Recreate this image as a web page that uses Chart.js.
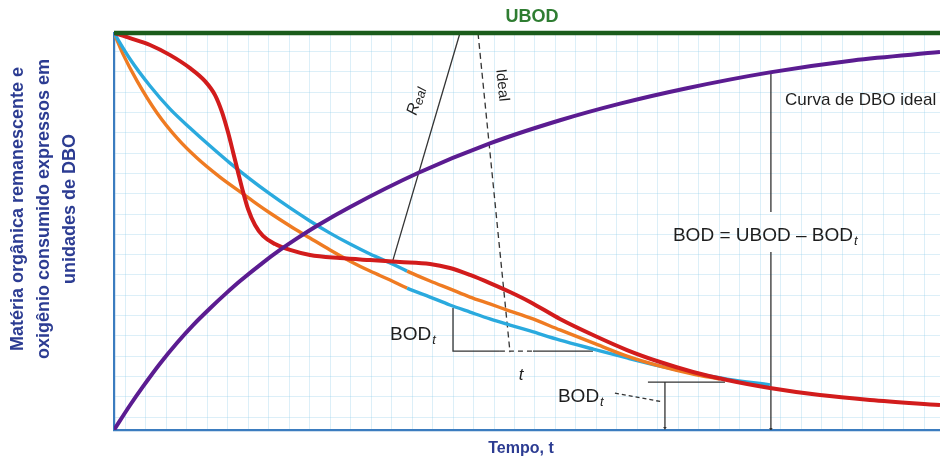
<!DOCTYPE html>
<html><head><meta charset="utf-8">
<script src="https://cdn.jsdelivr.net/npm/chart.js@4/dist/chart.umd.min.js"></script>
<style>html,body{margin:0;padding:0;background:#fff}#wrap{width:940px;height:461px;position:relative}</style>
</head><body><div id="wrap"><canvas id="c"></canvas></div>
<script>
// ---- values (time t and amount, in grid units) ----
const UBOD = 18.92;
const T_MIN = -0.54, T_MAX = 39.76, Y_MIN = -0.64;
const SWAP_T = 13.76; // where the blue/orange colours swap on the two decay curves

const idealT = [-0.54,0.24,0.88,1.71,2.54,3.32,4.15,4.98,5.61,6.73,7.56,8.39,9.41,10.98,14.29,17.80,21.22,24.15,27.41,31.46,35.51,39.76];
const idealY = [-0.64,0.58,1.51,2.64,3.66,4.53,5.36,6.14,6.70,7.61,8.23,8.80,9.45,10.35,12.02,13.48,14.62,15.44,16.20,16.98,17.57,17.98];

const realT = [-0.54,0.24,1.22,2.20,3.17,3.90,4.39,4.73,5.02,5.27,5.51,5.76,6.00,6.34,6.73,7.32,8.05,9.02,10.49,11.95,13.41,14.88,15.85,16.83,17.80,18.78,19.76,21.22,22.83,24.49,26.10,27.71,29.37,31.46,33.90,36.34,39.76];
const realY = [18.92,18.67,18.33,17.83,17.19,16.55,15.86,15.02,14.04,13.05,12.07,11.08,10.25,9.46,8.92,8.52,8.23,7.98,7.83,7.73,7.64,7.54,7.34,7.00,6.60,6.16,5.67,4.83,4.04,3.30,2.71,2.22,1.82,1.43,1.08,0.84,0.59];

const upperT = [-0.54,0.24,1.22,2.20,3.17,4.15,5.12,6.10,7.07,8.05,9.02,10.00,10.98,11.95,12.93,13.76,14.88,15.85,16.83,17.80,18.78,19.76,21.22,22.83,24.49,26.10,27.71,29.02];
const upperY = [18.92,17.64,16.31,15.17,14.24,13.35,12.51,11.72,10.99,10.30,9.66,9.06,8.52,8.03,7.59,7.19,6.70,6.31,5.91,5.57,5.22,4.88,4.29,3.65,3.00,2.51,2.12,1.87];

const lowerT = [-0.54,-0.10,0.59,1.56,2.54,3.51,4.63,5.76,6.44,7.07,8.05,9.02,10.00,10.98,11.95,12.93,13.76,14.88,15.85,16.83,17.80,18.78,19.76,21.22,22.83,24.49,26.10,27.71,29.37,31.46];
const lowerY = [18.92,17.88,16.55,14.98,13.74,12.76,11.82,10.99,10.49,10.05,9.41,8.82,8.23,7.68,7.19,6.75,6.35,5.91,5.52,5.17,4.83,4.53,4.24,3.79,3.35,2.91,2.51,2.17,1.87,1.58];

// construction lines of the figure
const realSlopeT = [16.34, 13.07];   const realSlopeY = [UBOD, 7.73];
const idealSlopeT = [17.22, 18.78];  const idealSlopeY = [UBOD, 3.20];
const bracket1T = [16.00, 16.00, 18.29, 18.29, 19.90, 22.83]; const bracket1Y = [5.37, 3.25, 3.25, null, 3.25, 3.25];
const bracket1DashT = [18.29, 19.90]; const bracket1DashY = [3.25, 3.25];
const bracket2T = [25.51, 29.27, 29.27, 26.34, 26.34]; const bracket2Y = [1.72, 1.72, null, 1.72, -0.54];
const leaderT = [23.90, 26.24]; const leaderY = [1.18, 0.74];
const arrowT = [31.51, 31.51, 31.51, 31.51, 31.51]; const arrowY = [16.95, 10.10, null, 8.13, -0.59];

const gridT = Array.from({length: 40}, (_, i) => i);
const gridY = Array.from({length: 19}, (_, i) => i);

const pts = (xs, ys) => xs.map((x, i) => ({x, y: ys[i]}));

const C = {red:'#d21c1c', cyan:'#2aaade', orange:'#ef7b22', purple:'#5b1c91', green:'#1b5c1b',
  axis:'#3b7cbf', ink:'#1e1e1e', title:'#2c3c92', ubodText:'#2f7d32', grid:'rgba(150,205,235,0.33)'};
const FONT = "'Liberation Sans', Arial, sans-serif";

const curve = (data, color, width, order, extra) => Object.assign({
  data, borderColor: color, borderWidth: width, pointRadius: 0, fill: false,
  cubicInterpolationMode: 'monotone', order
}, extra || {});
const thin = (data, dash, order, extra) => Object.assign({
  data, borderColor: '#333', borderWidth: 1.3, borderDash: dash || [], pointRadius: 0,
  tension: 0, fill: false, spanGaps: false, order
}, extra || {});

function sub(ctx, x, y, main, s, size) {
  ctx.font = size + 'px ' + FONT;
  ctx.textAlign = 'left'; ctx.textBaseline = 'alphabetic';
  ctx.fillText(main, x, y);
  const w = ctx.measureText(main).width;
  ctx.font = 'italic ' + Math.round(size * 0.68) + 'px ' + FONT;
  ctx.fillText(s, x + w + 1, y + 4);
}

const labels = {
  ubod: {t: 19.85, v: 19.72},
  real: {t: 14.20, v: 15.57, angle: -73.5},
  ideal: {t: 18.39, v: 16.35, angle: 84},
  bod1: {t: 12.93, v: 3.79},
  tmark: {t: 19.32, v: 2.07},
  bod2: {t: 21.12, v: 0.74},
  formula: {t: 26.73, v: 8.67},
  curva: {t: 32.20, v: 15.37}
};

const textPlugin = {
  id: 'texts',
  afterDatasetsDraw(chart) {
    const {ctx, chartArea: a, scales: {x, y}} = chart;
    const P = o => [x.getPixelForValue(o.t), y.getPixelForValue(o.v)];
    ctx.save();
    ctx.fillStyle = C.ink;
    let [px, py] = P(labels.ubod);
    ctx.font = 'bold 18px ' + FONT; ctx.fillStyle = C.ubodText;
    ctx.textAlign = 'center'; ctx.textBaseline = 'middle';
    ctx.fillText('UBOD', px, py);
    ctx.fillStyle = C.ink;
    [px, py] = P(labels.real);
    ctx.save(); ctx.translate(px, py); ctx.rotate(labels.real.angle * Math.PI / 180);
    ctx.font = 'italic 16px ' + FONT; ctx.textBaseline = 'middle'; ctx.textAlign = 'left';
    const rw = ctx.measureText('R').width;
    ctx.font = 'italic 13px ' + FONT;
    const ew = ctx.measureText('eal').width;
    const sx = -(rw + ew) / 2;
    ctx.font = 'italic 16px ' + FONT; ctx.fillText('R', sx, 0);
    ctx.font = 'italic 13px ' + FONT; ctx.fillText('eal', sx + rw, 3);
    ctx.restore();
    [px, py] = P(labels.ideal);
    ctx.save(); ctx.translate(px, py); ctx.rotate(labels.ideal.angle * Math.PI / 180);
    ctx.font = '15px ' + FONT; ctx.textAlign = 'center'; ctx.textBaseline = 'middle';
    ctx.fillText('Ideal', 0, 0);
    ctx.restore();
    [px, py] = P(labels.bod1); sub(ctx, px, py, 'BOD', 't', 19);
    [px, py] = P(labels.bod2); sub(ctx, px, py, 'BOD', 't', 19);
    [px, py] = P(labels.formula); sub(ctx, px, py, 'BOD = UBOD \u2013 BOD', 't', 19);
    [px, py] = P(labels.tmark);
    ctx.font = 'italic 17px ' + FONT; ctx.textAlign = 'center'; ctx.textBaseline = 'middle';
    ctx.fillText('t', px, py);
    [px, py] = P(labels.curva);
    ctx.font = '17px ' + FONT; ctx.textAlign = 'left'; ctx.textBaseline = 'alphabetic';
    ctx.fillText('Curva de DBO ideal', px, py);
    ctx.fillStyle = C.title;
    ctx.font = 'bold 16px ' + FONT; ctx.textAlign = 'center'; ctx.textBaseline = 'middle';
    ctx.fillText('Tempo, t', (a.left + a.right) / 2 - 6, a.bottom + 19);
    const yl = ['Matéria orgânica remanescente e', 'oxigênio consumido expressos em', 'unidades de DBO'];
    ctx.save(); ctx.translate(a.left - 96, a.top + 176); ctx.rotate(-Math.PI / 2);
    ctx.font = 'bold 18px ' + FONT;
    yl.forEach((s, i) => ctx.fillText(s, 0, i * 26));
    ctx.restore();
    ctx.restore();
  }
};

new Chart(document.getElementById('c'), {
  type: 'line',
  data: {
    datasets: [
      curve(pts([T_MIN, T_MAX], [UBOD, UBOD]), C.green, 4.5, 0, {clip: false, cubicInterpolationMode: 'default', tension: 0}),
      curve(pts(idealT, idealY), C.purple, 4, 1),
      curve(pts(realT, realY), C.red, 4, 2),
      curve(pts(upperT, upperY), C.cyan, 3.4, 3, {segment: {borderColor: c => c.p0.parsed.x >= SWAP_T ? C.orange : C.cyan}}),
      curve(pts(lowerT, lowerY), C.orange, 3.4, 4, {segment: {borderColor: c => c.p0.parsed.x >= SWAP_T ? C.cyan : C.orange}}),
      thin(pts(realSlopeT, realSlopeY), [], 6),
      thin(pts(idealSlopeT, idealSlopeY), [6, 4], 6),
      thin(pts(bracket1T, bracket1Y), [], 6),
      thin(pts(bracket1DashT, bracket1DashY), [5, 4], 6),
      thin(pts(bracket2T, bracket2Y), [], 6, {pointStyle: 'triangle', pointRadius: [0,0,0,0,2], pointRotation: [0,0,0,0,180], pointBackgroundColor: '#333', pointBorderWidth: 0}),
      thin(pts(leaderT, leaderY), [4, 3], 6),
      thin(pts(arrowT, arrowY), [], 6, {pointStyle: 'triangle', pointRadius: [2,0,0,0,2], pointRotation: [0,0,0,0,180], pointBackgroundColor: '#333', pointBorderWidth: 0})
    ]
  },
  options: {
    responsive: true, maintainAspectRatio: false, devicePixelRatio: 1, animation: false,
    layout: {autoPadding: false, padding: {left: 114, top: 33, right: 0, bottom: 31}},
    plugins: {legend: {display: false}, tooltip: {enabled: false}, title: {display: false}},
    scales: {
      x: {type: 'linear', min: T_MIN, max: T_MAX,
        afterBuildTicks: s => { s.ticks = gridT.map(v => ({value: v})); },
        ticks: {display: false}, grid: {color: C.grid, lineWidth: 1, drawTicks: false},
        border: {display: true, color: C.axis, width: 2.2}},
      y: {type: 'linear', min: Y_MIN, max: UBOD,
        afterBuildTicks: s => { s.ticks = gridY.map(v => ({value: v})); },
        ticks: {display: false}, grid: {color: C.grid, lineWidth: 1, drawTicks: false},
        border: {display: true, color: C.axis, width: 2.2}}
    }
  },
  plugins: [textPlugin]
});
</script>
</body></html>
